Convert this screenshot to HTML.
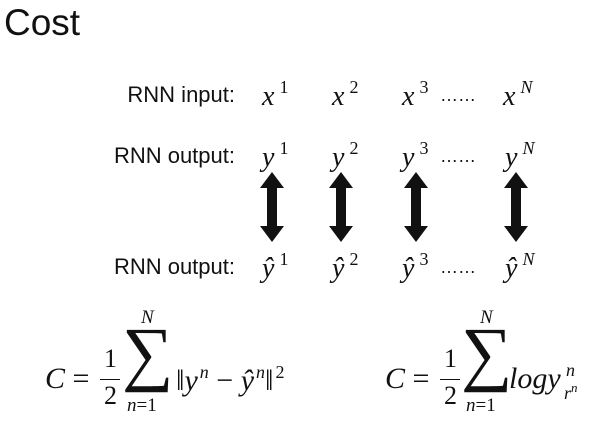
<!DOCTYPE html>
<html><head><meta charset="utf-8"><style>
body{margin:0;width:592px;height:435px;background:#fff;position:relative;overflow:hidden;font-family:"Liberation Sans",sans-serif;color:#111}
.a{position:absolute;white-space:nowrap}
.lbl{font-size:22px}
.m{font-family:"Liberation Serif",serif;font-style:italic;font-size:28px}
sup{font-size:18px;font-style:normal;vertical-align:12px;margin-left:5px}
.sup{font-size:18px;vertical-align:12px;margin-left:2px}
.dots{font-size:18px}
.f{font-family:"Liberation Serif",serif;font-size:30px}
</style></head><body>
<div class="a" style="left:4px;top:2px;font-size:37px;font-weight:300">Cost</div>

<div class="a lbl" style="right:357px;top:82px">RNN input:</div>
<div class="a m" style="left:262px;top:77px">x<sup>1</sup></div>
<div class="a m" style="left:332px;top:77px">x<sup>2</sup></div>
<div class="a m" style="left:402px;top:77px">x<sup>3</sup></div>
<div class="a dots" style="left:440px;top:85px">……</div>
<div class="a m" style="left:503px;top:77px">x<sup><i>N</i></sup></div>

<div class="a lbl" style="right:357px;top:143px">RNN output:</div>
<div class="a m" style="left:262px;top:138px">y<sup>1</sup></div>
<div class="a m" style="left:332px;top:138px">y<sup>2</sup></div>
<div class="a m" style="left:402px;top:138px">y<sup>3</sup></div>
<div class="a dots" style="left:440px;top:146px">……</div>
<div class="a m" style="left:505px;top:138px">y<sup><i>N</i></sup></div>

<svg class="a" style="left:0;top:0" width="592" height="435">
<g fill="#111">
<path d="M272 172 l12 16 h-7 v38 h7 l-12 16 l-12 -16 h7 v-38 h-7z"/>
<path d="M341 172 l12 16 h-7 v38 h7 l-12 16 l-12 -16 h7 v-38 h-7z"/>
<path d="M416 172 l12 16 h-7 v38 h7 l-12 16 l-12 -16 h7 v-38 h-7z"/>
<path d="M516 172 l12 16 h-7 v38 h7 l-12 16 l-12 -16 h7 v-38 h-7z"/>
</g></svg>

<div class="a lbl" style="right:357px;top:254px">RNN output:</div>
<div class="a m" style="left:262px;top:249px">ŷ<sup>1</sup></div>
<div class="a m" style="left:332px;top:249px">ŷ<sup>2</sup></div>
<div class="a m" style="left:402px;top:249px">ŷ<sup>3</sup></div>
<div class="a dots" style="left:440px;top:257px">……</div>
<div class="a m" style="left:505px;top:249px">ŷ<sup><i>N</i></sup></div>

<div>
<div class="a f" style="left:45px;top:362px"><i>C</i> =</div>
<div class="a f" style="left:104px;top:344px;font-size:26px">1</div>
<div class="a" style="left:100px;top:379px;width:20px;border-top:1.5px solid #111"></div>
<div class="a f" style="left:104px;top:381px;font-size:26px">2</div>
<div class="a" style="left:122px;top:312px;font-family:'Liberation Serif',serif;font-size:72px">∑</div>
<div class="a" style="left:141px;top:307px;font-family:'Liberation Serif',serif;font-style:italic;font-size:19px">N</div>
<div class="a" style="left:127px;top:395px;font-family:'Liberation Serif',serif;font-size:19px"><i>n</i>=1</div>
<div class="a f" style="left:176px;top:362px">‖<i>y</i><span class="sup"><i>n</i></span> − <i>ŷ</i><span class="sup"><i>n</i></span>‖<span class="sup">2</span></div>
</div>

<div>
<div class="a f" style="left:385px;top:362px"><i>C</i> =</div>
<div class="a f" style="left:444px;top:344px;font-size:26px">1</div>
<div class="a" style="left:440px;top:379px;width:20px;border-top:1.5px solid #111"></div>
<div class="a f" style="left:444px;top:381px;font-size:26px">2</div>
<div class="a" style="left:461px;top:312px;font-family:'Liberation Serif',serif;font-size:72px">∑</div>
<div class="a" style="left:480px;top:307px;font-family:'Liberation Serif',serif;font-style:italic;font-size:19px">N</div>
<div class="a" style="left:466px;top:395px;font-family:'Liberation Serif',serif;font-size:19px"><i>n</i>=1</div>
<div class="a f" style="left:509px;top:362px"><i>logy</i></div>
<div class="a" style="left:566px;top:360px;font-family:'Liberation Serif',serif;font-style:italic;font-size:18px">n</div>
<div class="a" style="left:564px;top:380px;font-family:'Liberation Serif',serif;font-style:italic;font-size:18px">r<span style="font-size:13px;vertical-align:7px">n</span></div>
</div>
</body></html>
